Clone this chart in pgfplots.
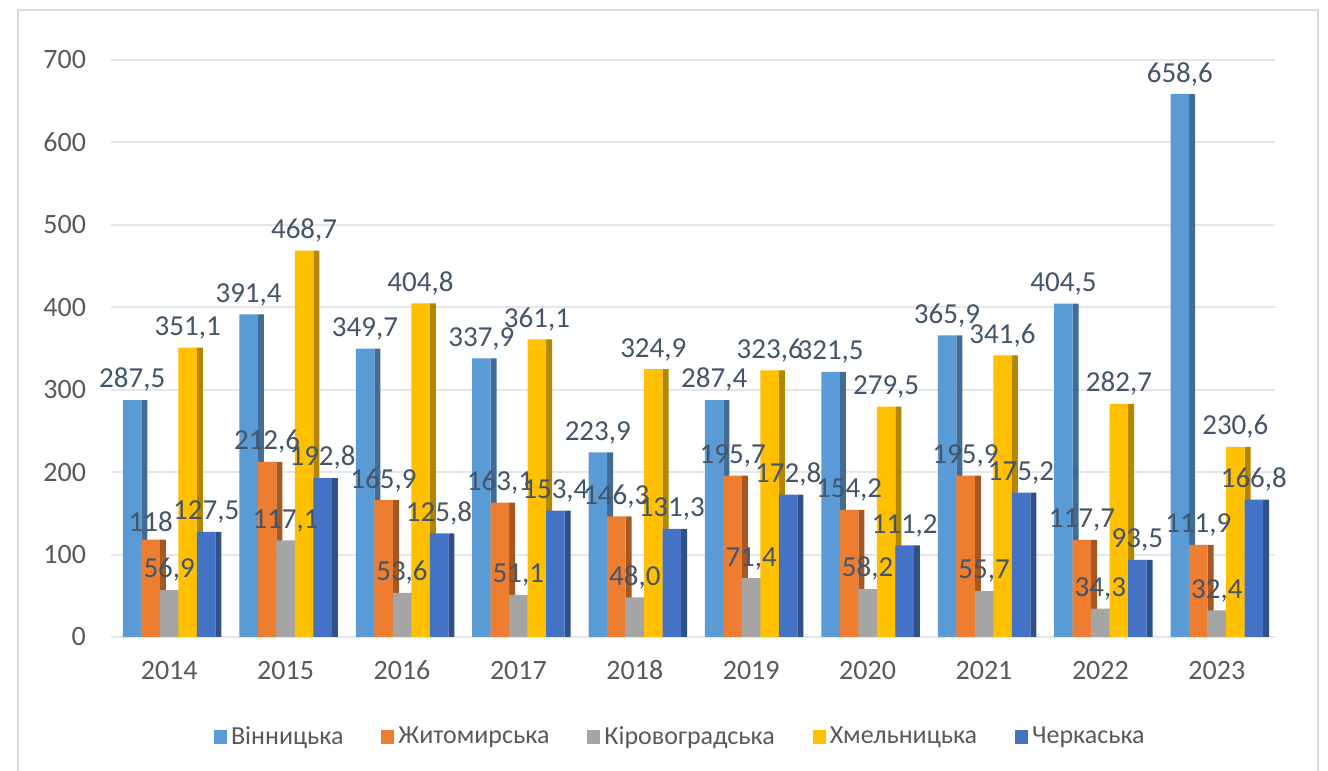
\documentclass[border=0pt]{standalone}
\usepackage{fontspec}
\setmainfont{Carlito}
\usepackage{pgfplots}
\usepackage{pgfplotstable}
\pgfplotsset{compat=1.18}

\definecolor{cVin}{HTML}{5B9BD5}
\definecolor{cZhy}{HTML}{ED7D31}
\definecolor{cKir}{HTML}{A5A5A5}
\definecolor{cKhm}{HTML}{FFC000}
\definecolor{cChe}{HTML}{4472C4}
\definecolor{gridgray}{HTML}{E3E6EA}
\definecolor{framegray}{HTML}{D9DCE0}
\definecolor{labcol}{HTML}{44546A}
\definecolor{tickcol}{HTML}{595959}

\pgfplotstableread{
x y lab
0 287.5 287,5
1 391.4 391,4
2 349.7 349,7
3 337.9 337,9
4 223.9 223,9
5 287.4 287,4
6 321.5 321,5
7 365.9 365,9
8 404.5 404,5
9 658.6 658,6
}\tVin
\pgfplotstableread{
x y lab
0 118 118
1 212.6 212,6
2 165.9 165,9
3 163.1 163,1
4 146.3 146,3
5 195.7 195,7
6 154.2 154,2
7 195.9 195,9
8 117.7 117,7
9 111.9 111,9
}\tZhy
\pgfplotstableread{
x y lab
0 56.9 56,9
1 117.1 117,1
2 53.6 53,6
3 51.1 51,1
4 48.0 48,0
5 71.4 71,4
6 58.2 58,2
7 55.7 55,7
8 34.3 34,3
9 32.4 32,4
}\tKir
\pgfplotstableread{
x y lab
0 351.1 351,1
1 468.7 468,7
2 404.8 404,8
3 361.1 361,1
4 324.9 324,9
5 323.6 323,6
6 279.5 279,5
7 341.6 341,6
8 282.7 282,7
9 230.6 230,6
}\tKhm
\pgfplotstableread{
x y lab
0 127.5 127,5
1 192.8 192,8
2 125.8 125,8
3 153.4 153,4
4 131.3 131,3
5 172.8 172,8
6 111.2 111,2
7 175.2 175,2
8 93.5 93,5
9 166.8 166,8
}\tChe

\begin{document}
\begin{tikzpicture}
\useasboundingbox (0pt,0pt) rectangle (664pt,385.5pt);
\fill[white] (0pt,0pt) rectangle (664pt,385.5pt);
\draw[framegray, line width=1pt] (9pt,-2pt) -- (9pt,380.5pt) -- (659pt,380.5pt) -- (659pt,-2pt);
\begin{axis}[
  at={(55.5pt,67pt)}, anchor=south west,
  scale only axis, width=582pt, height=288.5pt,
  xmin=-0.5, xmax=9.5, ymin=0, ymax=700,
  ytick={0,100,...,700},
  xtick={0,...,9},
  xticklabels={2014,2015,2016,2017,2018,2019,2020,2021,2022,2023},
  axis line style={draw=none},
  major tick length=0pt,
  ymajorgrids, grid style={color=gridgray, line width=1pt},
  /pgf/number format/assume math mode=true,
  ticklabel style={font=\fontsize{14}{16}\selectfont, text=tickcol},
  yticklabel style={xshift=-9pt},
  xticklabel style={anchor=base, yshift=-21pt},
  ybar, bar width=9.25pt,
  legend style={at={(0.49,-0.173)}, anchor=center, draw=none, fill=none,
    legend columns=5, font=\fontsize{13}{15}\selectfont, text=tickcol,
    /tikz/every even column/.append style={column sep=17pt},
    legend cell align=left},
  legend image code/.code={\fill[#1] (0pt,-3.5pt) rectangle (6.5pt,3.5pt);},
  every node near coord/.append style={font=\fontsize{14.5}{16}\selectfont, text=labcol, inner sep=1.5pt, yshift=2.5pt},
]
% side faces
\addplot[forget plot, fill=cVin!70!black, draw=none, bar width=3pt, bar shift=-12.375pt] table[x=x,y=y] {\tVin};
\addplot[forget plot, fill=cZhy!70!black, draw=none, bar width=3pt, bar shift=-3.125pt] table[x=x,y=y] {\tZhy};
\addplot[forget plot, fill=cKir!70!black, draw=none, bar width=3pt, bar shift=6.125pt] table[x=x,y=y] {\tKir};
\addplot[forget plot, fill=cKhm!70!black, draw=none, bar width=3pt, bar shift=15.375pt] table[x=x,y=y] {\tKhm};
\addplot[forget plot, fill=cChe!70!black, draw=none, bar width=3pt, bar shift=24.625pt] table[x=x,y=y] {\tChe};
% front faces
\addplot[fill=cVin, draw=none, bar shift=-18.5pt, nodes near coords, point meta=explicit symbolic] table[x=x,y=y,meta=lab] {\tVin};
\addplot[fill=cZhy, draw=none, bar shift=-9.25pt, nodes near coords, point meta=explicit symbolic] table[x=x,y=y,meta=lab] {\tZhy};
\addplot[fill=cKir, draw=none, bar shift=0pt, nodes near coords, point meta=explicit symbolic] table[x=x,y=y,meta=lab] {\tKir};
\addplot[fill=cKhm, draw=none, bar shift=9.25pt, nodes near coords, point meta=explicit symbolic] table[x=x,y=y,meta=lab] {\tKhm};
\addplot[fill=cChe, draw=none, bar shift=18.5pt, nodes near coords, point meta=explicit symbolic] table[x=x,y=y,meta=lab] {\tChe};
\legend{Вінницька,Житомирська,Кіровоградська,Хмельницька,Черкаська}
\end{axis}
\end{tikzpicture}
\end{document}
